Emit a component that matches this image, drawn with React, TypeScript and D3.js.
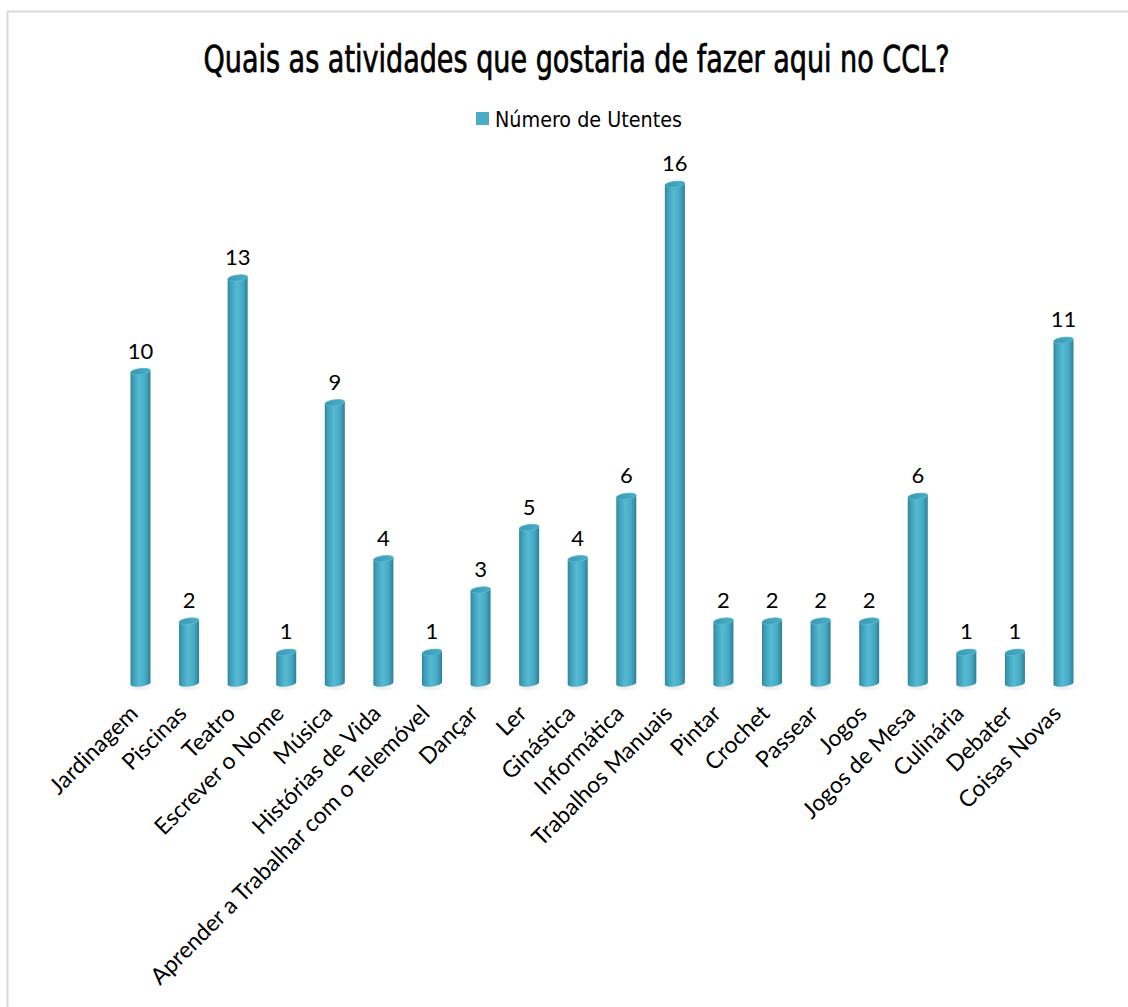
import React, { useEffect } from "react";
import * as d3 from "d3";

// Activities requested by users and how many people chose each one
const categories = [
  "Jardinagem",
  "Piscinas",
  "Teatro",
  "Escrever o Nome",
  "Música",
  "Histórias de Vida",
  "Aprender a Trabalhar com o Telemóvel",
  "Dançar",
  "Ler",
  "Ginástica",
  "Informática",
  "Trabalhos Manuais",
  "Pintar",
  "Crochet",
  "Passear",
  "Jogos",
  "Jogos de Mesa",
  "Culinária",
  "Debater",
  "Coisas Novas",
];
const utentes = [10, 2, 13, 1, 9, 4, 1, 3, 5, 4, 6, 16, 2, 2, 2, 2, 6, 1, 1, 11];

const title = "Quais as atividades que gostaria de fazer aqui no CCL?";
const seriesName = "Número de Utentes";

const W = 1128;
const H = 1007;
const baseY = 683.5;
const barW = 20;
const ry = 3;
const tilt = -7; // degrees: elliptical caps lean slightly upward to the right

const condensed = "'Liberation Sans Narrow', 'DejaVu Sans Condensed', 'Roboto', sans-serif";
const labelFont = "'Lato', 'Liberation Sans', sans-serif";

export default function App() {
  useEffect(() => {
    document.body.style.margin = "0";
  }, []);

  const x = d3.scalePoint<string>().domain(categories).range([140.5, 1063.5]);
  const y = d3.scaleLinear().domain([0, 16]).range([baseY, baseY - 16 * 31.2]);

  const rad = (tilt * Math.PI) / 180;
  const dy = (barW / 2) * Math.sin(-rad); // vertical offset of cap ends

  // Cylinder body: straight sides closed by the lower half of the base ellipse
  const cylinder = (cx: number, yt: number) => {
    const x0 = cx - barW / 2;
    const x1 = cx + barW / 2;
    return (
      `M${x0},${yt + dy} L${x0},${baseY + dy} ` +
      `A${barW / 2},${ry} ${tilt} 0 0 ${x1},${baseY - dy} ` +
      `L${x1},${yt - dy} ` +
      `A${barW / 2},${ry} ${tilt} 0 0 ${x0},${yt + dy} Z`
    );
  };

  return (
    <svg width={W} height={H} style={{ display: "block" }}>
      <defs>
        <linearGradient id="body" x1="0" x2="1" y1="0" y2="0">
          <stop offset="0" stopColor="#2f8199" />
          <stop offset="0.12" stopColor="#3d9cb5" />
          <stop offset="0.45" stopColor="#57bad4" />
          <stop offset="0.75" stopColor="#47aac3" />
          <stop offset="1" stopColor="#2c7f96" />
        </linearGradient>
        <linearGradient id="cap" x1="0" x2="1" y1="0" y2="0">
          <stop offset="0" stopColor="#3a98b0" />
          <stop offset="1" stopColor="#4aaec7" />
        </linearGradient>
        <radialGradient id="shadow">
          <stop offset="0" stopColor="#000" stopOpacity="0.08" />
          <stop offset="1" stopColor="#000" stopOpacity="0" />
        </radialGradient>
      </defs>

      <rect x={0} y={0} width={W} height={H} fill="#fff" />
      <rect x={7.5} y={11.5} width={W + 20} height={H + 20} fill="none" stroke="#d9d9d9" strokeWidth={2} />

      <text
        x={576.5}
        y={72}
        textAnchor="middle"
        fontFamily={condensed}
        fontSize={37}
        fill="#000"
        stroke="#000"
        strokeWidth={0.7}
        textLength={746}
        lengthAdjust="spacingAndGlyphs"
      >
        {title}
      </text>

      <g>
        <rect x={476} y={112} width={13} height={13} fill="#4bacc6" />
        <text
          x={495}
          y={126.5}
          fontFamily={condensed}
          fontSize={22}
          fill="#000"
          textLength={187}
          lengthAdjust="spacingAndGlyphs"
        >
          {seriesName}
        </text>
      </g>

      <g>
        {categories.map((c, i) => {
          const cx = x(c)!;
          const yt = y(utentes[i]);
          return (
            <g key={c}>
              <ellipse cx={cx} cy={baseY + 4} rx={14} ry={4} fill="url(#shadow)" />
              <path d={cylinder(cx, yt)} fill="url(#body)" />
              <ellipse
                cx={cx}
                cy={yt}
                rx={barW / 2}
                ry={ry}
                fill="url(#cap)"
                stroke="#5cc0d8"
                strokeWidth={0.6}
                transform={`rotate(${tilt},${cx},${yt})`}
              />
              <text
                x={cx}
                y={yt - 13}
                textAnchor="middle"
                fontFamily={labelFont}
                fontSize={22}
                fill="#000"
              >
                {utentes[i]}
              </text>
            </g>
          );
        })}
      </g>

      <g>
        {categories.map((c) => {
          const cx = x(c)!;
          return (
            <text
              key={c}
              transform={`translate(${cx - 1},${715}) rotate(-45)`}
              textAnchor="end"
              fontFamily={labelFont}
              fontSize={23}
              fill="#000"
            >
              {c}
            </text>
          );
        })}
      </g>
    </svg>
  );
}
